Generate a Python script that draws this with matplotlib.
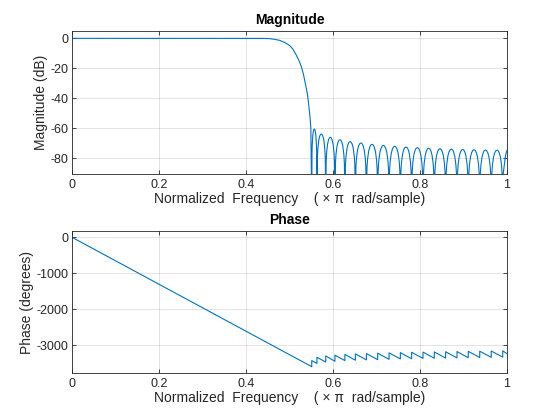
"""Magnitude / phase response of a lowpass FIR, drawn in MATLAB freqz style."""
import matplotlib

matplotlib.use("Agg")
import matplotlib.pyplot as plt  # noqa: E402
import numpy as np  # noqa: E402

# --- values ------------------------------------------------------------------
# passband + transition band (normalized freq, dB)
pass_freq = [0.0, 0.10, 0.20, 0.30, 0.40, 0.44, 0.454, 0.462, 0.470, 0.477,
             0.488, 0.500, 0.508, 0.515, 0.522, 0.527, 0.532, 0.537, 0.541,
             0.544, 0.547, 0.549, 0.5511]
pass_db = [0.0, 0.0, 0.0, 0.0, 0.0, -0.05, -0.2, -0.5, -0.9, -1.3,
           -2.6, -4.7, -7.3, -10.9, -15.0, -18.7, -24.0, -31.0, -37.0,
           -44.0, -52.0, -60.0, -110.0]

# stopband nulls and the sidelobe peak between each pair of nulls
null_freq = [0.5511, 0.5630, 0.5832, 0.6044, 0.6273, 0.6514, 0.6767, 0.7026,
             0.7288, 0.7548, 0.7807, 0.8069, 0.8328, 0.8588, 0.8850, 0.9109,
             0.9373, 0.9637, 0.9901]
lobe_peak_db = [-60.5, -63.8, -66.0, -67.6, -68.9, -69.8, -70.7, -71.4, -72.0,
                -72.5, -72.9, -73.3, -73.6, -73.9, -74.1, -74.3, -74.5, -74.6]
end_freq = [0.9911, 0.9935, 0.9960, 0.9980, 1.0]
end_db = [-90.8, -84.9, -79.3, -76.5, -74.7]

# shape of one sidelobe: position within the lobe and level below its peak
lobe_pos = [0.05, 0.10, 0.20, 0.30, 0.40, 0.50, 0.60, 0.70, 0.80, 0.90, 0.95]
lobe_drop = [-16.0, -10.2, -4.6, -1.8, -0.4, 0.0, -0.4, -1.8, -4.6, -10.2, -16.0]

# phase: linear part, then a sawtooth that jumps at every stopband null
phase_lin_freq = [0.0, 0.5511]
phase_lin_deg = [0.0, -3590.0]
tooth_bottom = [-3590, -3500, -3460, -3440, -3420, -3410, -3400, -3395, -3385,
                -3375, -3370, -3360, -3355, -3350, -3345, -3340, -3335, -3330,
                -3325]
tooth_top = [-3420, -3330, -3290, -3270, -3250, -3235, -3225, -3215, -3205,
             -3200, -3190, -3185, -3180, -3175, -3170, -3165, -3160, -3155,
             -3150]
phase_end = -3230.0

# --- build the curves ----------------------------------------------------------
mag_f = list(pass_freq)
mag_db = list(pass_db)
for k, peak in enumerate(lobe_peak_db):
    f0, f1 = null_freq[k], null_freq[k + 1]
    for p, d in zip(lobe_pos, lobe_drop):
        mag_f.append(f0 + p * (f1 - f0))
        mag_db.append(peak + d)
    mag_f.append(f1)
    mag_db.append(-110.0)
mag_f += end_freq
mag_db += end_db

ph_f = list(phase_lin_freq)
ph_deg = list(phase_lin_deg)
for k, f in enumerate(null_freq):
    if k > 0:
        ph_f.append(f)
        ph_deg.append(tooth_bottom[k])
    ph_f.append(f)
    ph_deg.append(tooth_top[k])
ph_f.append(1.0)
ph_deg.append(phase_end)

# --- MATLAB-ish look -------------------------------------------------------------
plt.rcParams["font.family"] = ["Liberation Sans", "DejaVu Sans"]
plt.rcParams["axes.unicode_minus"] = False
EDGE = "#262626"
LINE = "#0072BD"
XLABEL = "Normalized  Frequency    ( \u00d7 \u03c0  rad/sample)"

fig = plt.figure(figsize=(5.6, 4.2), dpi=100)
ax1 = fig.add_axes([0.1286, 0.5857, 0.7768, 0.3405])
ax2 = fig.add_axes([0.1286, 0.1119, 0.7768, 0.3381])


def style(ax):
    for s in ax.spines.values():
        s.set_color(EDGE)
        s.set_linewidth(0.6)
    ax.tick_params(direction="in", length=3, width=0.6, colors=EDGE,
                   labelsize=9, top=True, right=True, labelcolor="#262626")
    ax.tick_params(axis="y", pad=2.5)
    ax.grid(True, color="#262626", alpha=0.15, lw=0.6)
    ax.set_axisbelow(True)
    ax.set_xlim(0, 1)
    ax.set_xticks([0, 0.2, 0.4, 0.6, 0.8, 1])
    ax.set_xticklabels(["0", "0.2", "0.4", "0.6", "0.8", "1"])
    ax.set_xlabel(XLABEL, fontsize=10, labelpad=1, color="#262626")


ax1.plot(mag_f, mag_db, color=LINE, lw=0.8)
style(ax1)
ax1.set_ylim(-90.5, 4.9)
ax1.set_yticks([0, -20, -40, -60, -80])
ax1.set_ylabel("Magnitude (dB)", fontsize=10, color="#262626", labelpad=1.5)
ax1.set_title("Magnitude", fontsize=10, fontweight="bold", pad=5)

ax2.plot(ph_f, ph_deg, color=LINE, lw=0.8)
style(ax2)
ax2.set_ylim(-3765, 175)
ax2.set_yticks([0, -1000, -2000, -3000])
ax2.set_ylabel("Phase (degrees)", fontsize=10, color="#262626", labelpad=1.5)
ax2.set_title("Phase", fontsize=10, fontweight="bold", pad=5)

fig.savefig("out.png", dpi=100)
plt.close(fig)
